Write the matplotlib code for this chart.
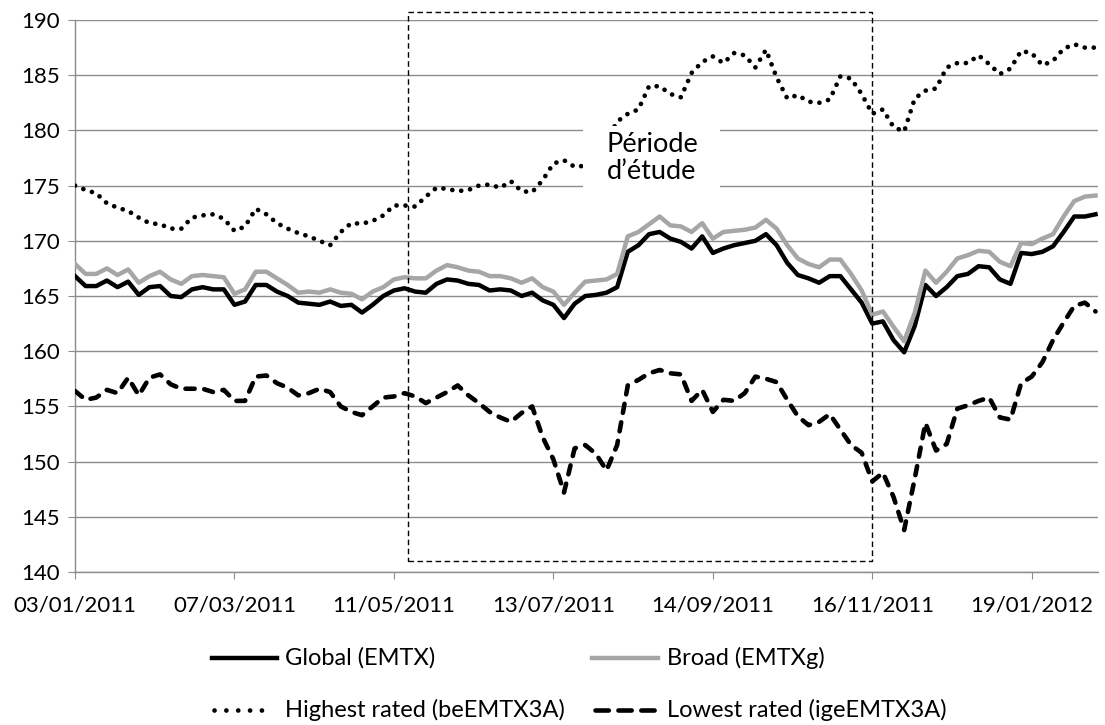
import matplotlib.pyplot as plt
import numpy as np
from matplotlib.lines import Line2D
from matplotlib.patches import Rectangle

plt.rcParams['font.family'] = ['Lato', 'DejaVu Sans']

# one value every 3 trading days (category axis, a date label every 45 days)
step = 3
tick_every = 45
tick_labels = ['03/01/2011', '07/03/2011', '11/05/2011', '13/07/2011',
               '14/09/2011', '16/11/2011', '19/01/2012']

global_emtx = [166.8, 165.9, 165.9, 166.4, 165.8, 166.3, 165.1, 165.8, 165.9, 165.0, 164.9,
               165.6, 165.8, 165.6, 165.6, 164.2, 164.5, 166.0, 166.0, 165.4, 165.0, 164.4,
               164.3, 164.2, 164.5, 164.1, 164.2, 163.5, 164.2, 165.0, 165.5, 165.7, 165.4,
               165.3, 166.1, 166.5, 166.4, 166.1, 166.0, 165.5, 165.6, 165.5, 165.0, 165.3,
               164.6, 164.2, 163.0, 164.3, 165.0, 165.1, 165.3, 165.8, 169.0, 169.6, 170.6,
               170.8, 170.2, 169.9, 169.3, 170.4, 168.9, 169.3, 169.6, 169.8,
               170.0, 170.6, 169.6, 168.0, 166.9, 166.6, 166.2, 166.8, 166.8, 165.6, 164.4,
               162.5, 162.7, 161.0, 159.9, 162.3, 166.0, 165.0, 165.8, 166.8, 167.0, 167.7,
               167.6, 166.5, 166.1, 168.9, 168.8, 169.0, 169.5, 170.8, 172.2, 172.2, 172.4]

broad_emtxg = [167.9, 167.0, 167.0, 167.5, 166.9, 167.4, 166.2, 166.8, 167.2, 166.5, 166.1,
               166.8, 166.9, 166.8, 166.7, 165.2, 165.6, 167.2, 167.2, 166.6, 166.0, 165.3,
               165.4, 165.3, 165.6, 165.3, 165.2, 164.7, 165.4, 165.8, 166.5, 166.7, 166.6,
               166.6, 167.3, 167.8, 167.6, 167.3, 167.2, 166.8, 166.8, 166.6, 166.2, 166.6,
               165.8, 165.4, 164.2, 165.3, 166.3, 166.4, 166.5, 167.0, 170.4, 170.8, 171.5,
               172.2, 171.4, 171.3, 170.8, 171.6, 170.2, 170.8, 170.9, 171.0,
               171.2, 171.9, 171.1, 169.6, 168.4, 167.9, 167.6, 168.3, 168.3, 167.0, 165.5,
               163.3, 163.6, 162.2, 160.9, 163.5, 167.3, 166.2, 167.2, 168.4, 168.7, 169.1,
               169.0, 168.1, 167.7, 169.8, 169.7, 170.2, 170.6, 172.2, 173.6, 174.0, 174.1]

highest_rated = [175.0, 174.6, 174.3, 173.4, 173.0, 172.7, 172.1, 171.6, 171.5, 171.1, 171.1,
                 172.1, 172.3, 172.4, 172.0, 170.9, 171.3, 172.9, 172.4, 171.6, 171.1, 170.7,
                 170.4, 170.0, 169.6, 170.8, 171.6, 171.55, 171.8, 172.3, 173.2, 173.2, 173.1,
                 174.0, 174.8, 174.7, 174.5, 174.6, 175.0, 175.1, 174.8, 175.4, 174.5, 174.4,
                 175.5, 177.0, 177.3, 176.7, 176.8, 177.5, 179.0, 180.8, 181.5, 181.9, 184.0,
                 184.0, 183.3, 183.0, 185.2, 186.2, 186.7, 186.1, 187.0, 186.8,
                 185.7, 187.3, 184.8, 182.9, 183.2, 182.6, 182.5, 182.8, 184.9, 184.7, 183.3,
                 181.5, 181.9, 180.3, 179.9, 182.9, 183.6, 183.8, 185.7, 186.1, 186.1, 186.8,
                 186.0, 185.1, 185.6, 187.2, 187.0, 185.9, 186.3, 187.4, 187.8, 187.5, 187.5]

lowest_rated = [156.4, 155.6, 155.8, 156.5, 156.2, 157.6, 156.0, 157.6, 157.9, 157.0, 156.6,
                156.6, 156.6, 156.3, 156.5, 155.5, 155.5, 157.7, 157.8, 157.1, 156.7, 156.0,
                156.2, 156.6, 156.3, 155.0, 154.5, 154.2, 155.0, 155.8, 155.9, 156.2, 155.9,
                155.3, 155.8, 156.3, 156.9, 156.0, 155.3, 154.5, 154.0, 153.6, 154.4, 155.0,
                152.2, 150.2, 147.2, 151.2, 151.5, 150.7, 149.2, 151.5, 156.9, 157.4, 158.0,
                158.3, 158.0, 157.9, 155.5, 156.5, 154.5, 155.6, 155.5, 156.2,
                157.7, 157.5, 157.2, 155.6, 154.1, 153.3, 153.6, 154.3, 152.9, 151.5, 150.8,
                148.2, 149.0, 146.8, 143.8, 148.5, 153.5, 151.0, 151.6, 154.8, 155.1, 155.5,
                155.8, 154.0, 153.8, 157.1, 157.7, 159.0, 161.0, 162.6, 164.1, 164.4, 163.6]

# study period (in trading-day index) shown as a dashed box
study_start = 94
study_end = 225

x = np.arange(len(global_emtx)) * step

W, H = 1105, 725
fig = plt.figure(figsize=(W / 100, H / 100), dpi=100)
ax = fig.add_axes([75 / W, 1 - 572 / H, (1098 - 75) / W, (572 - 20) / H])

grey_axis = '#8C8C8C'
dotted = dict(color='black', lw=3.4, linestyle=(0, (0.01, 1.9)), dash_capstyle='round')
dashed = dict(color='black', lw=3.3, linestyle=(0, (2.0, 2.1)), dash_capstyle='round')

ax.plot(x, global_emtx, color='black', lw=3.2, solid_joinstyle='round', zorder=3)
ax.plot(x, broad_emtxg, color='#A6A6A6', lw=3.2, solid_joinstyle='round', zorder=3)
ax.plot(x, highest_rated, zorder=3, **dotted)
ax.plot(x, lowest_rated, zorder=3, **dashed)

ax.set_xlim(0, 288.7)
ax.set_ylim(140, 190)
ax.set_yticks(np.arange(140, 191, 5))
ax.set_xticks(np.arange(len(tick_labels)) * tick_every)
ax.set_xticklabels(tick_labels)
ax.yaxis.grid(True, color=grey_axis, lw=1)
ax.set_axisbelow(True)
for s in ['top', 'right']:
    ax.spines[s].set_visible(False)
for s in ['left', 'bottom']:
    ax.spines[s].set_color(grey_axis)
    ax.spines[s].set_linewidth(1)
ax.tick_params(axis='both', direction='out', length=5, color=grey_axis, labelsize=16)
ax.tick_params(axis='x', pad=12)
ax.tick_params(axis='y', pad=6)

# white label box over the lines, then the dashed study-period frame
ax.add_patch(Rectangle((143.3, 174.7), 38.7, 5.7, facecolor='white', edgecolor='none',
                       zorder=4))
ax.text(162.8, 177.5, 'Période\nd\u2019étude', ha='center', va='center', fontsize=19.5,
        linespacing=1.1, zorder=5)
ax.add_patch(Rectangle((study_start, 141.0), study_end - study_start, 49.7, fill=False,
                       edgecolor='black', lw=1, linestyle=(0, (4, 2.5)), clip_on=False,
                       zorder=6))

# legend drawn by hand to follow the original layout
entries = [
    ('Global (EMTX)', dict(color='black', lw=3.2), 212, 277, 285, 658),
    ('Broad (EMTXg)', dict(color='#A6A6A6', lw=3.2), 592, 658, 667, 658),
    ('Highest rated (beEMTX3A)', dict(dotted, linestyle=(0, (0.01, 2.5))), 214, 272, 285, 710),
    ('Lowest rated (igeEMTX3A)', dict(dashed, linestyle=(0, (2.9, 2.1))), 595, 658, 667, 710),
]
for label, style, x0, x1, tx, ty in entries:
    fig.add_artist(Line2D([x0 / W, x1 / W], [1 - ty / H, 1 - ty / H],
                          transform=fig.transFigure, **style))
    fig.text(tx / W, 1 - ty / H, label, ha='left', va='center', fontsize=17)

fig.savefig('out.png', dpi=100)
